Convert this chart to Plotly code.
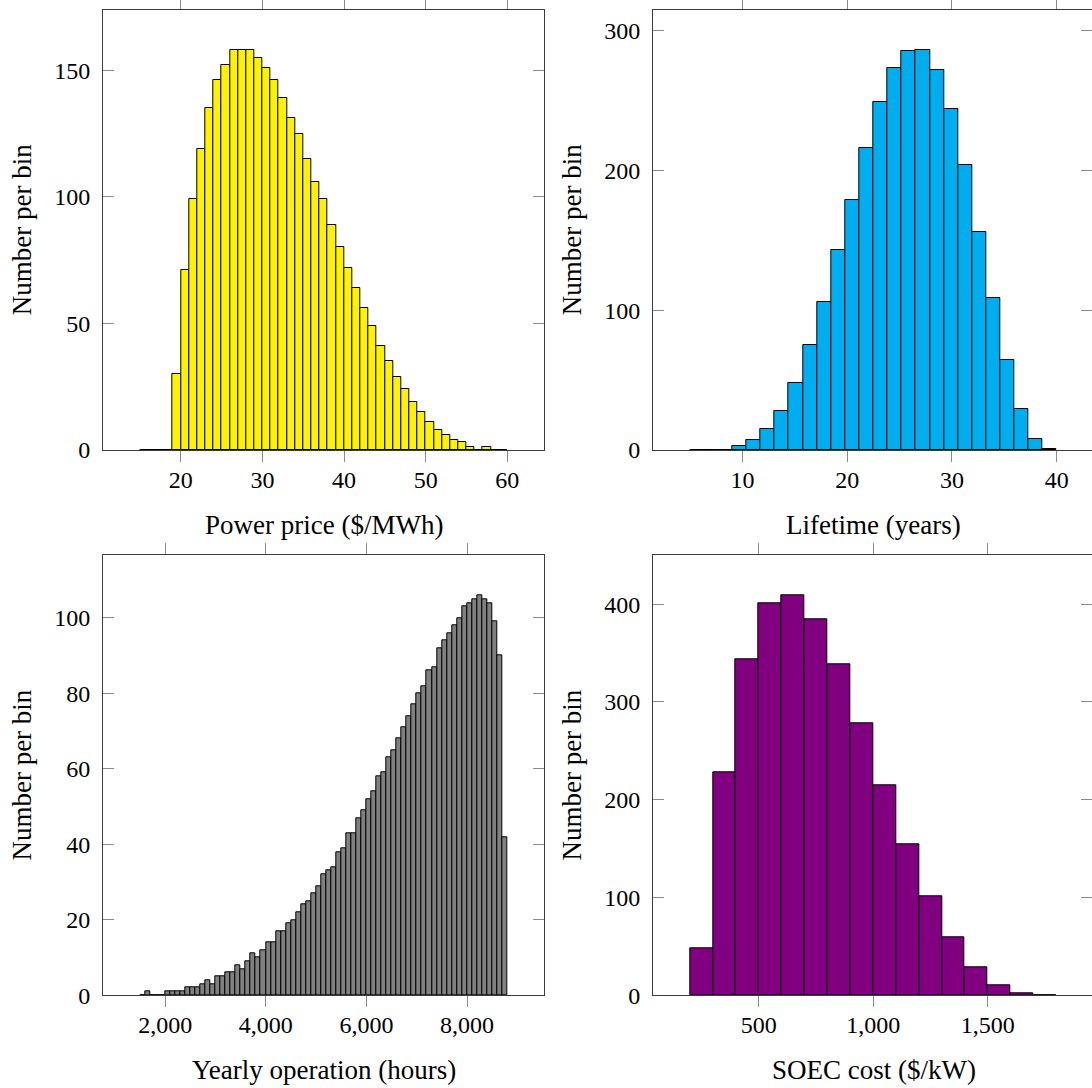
import numpy as np
import plotly.graph_objects as go

# ---------------- data ----------------
# Power price ($/MWh): 1-$ bins from 15 to 60
price_edges = np.arange(15, 61, 1)
price_counts = [0, 0, 0, 0, 30, 71, 99, 119, 135, 146, 152, 158, 158, 158, 155, 151,
                146, 139, 131, 125, 115, 106, 99, 89, 80, 72, 64, 56, 49, 41, 35, 29,
                24, 19, 15, 11, 8, 6, 4, 3, 1, 0, 1, 0, 0]

# Lifetime (years): 26 equal bins from 5 to 40
life_edges = np.linspace(5, 40, 27)
life_counts = [0, 0, 0, 3, 7, 15, 28, 48, 75, 106, 143, 179, 216, 249, 273, 285,
               286, 272, 244, 204, 156, 109, 64, 29, 8, 1]

# Yearly operation (hours): 100-h bins from 1500 to 8800
hours_edges = np.arange(1500, 8801, 100)
hours_counts = [0, 1, 0, 0, 0, 1, 1, 1, 1, 2, 2, 2, 3, 4, 3, 5, 5, 6, 6, 8, 7, 9, 11,
                10, 12, 14, 14, 17, 17, 19, 20, 22, 24, 25, 27, 29, 32, 33, 34, 38,
                39, 43, 43, 47, 49, 52, 54, 58, 59, 63, 65, 68, 71, 74, 77, 80, 82,
                86, 87, 92, 94, 96, 98, 100, 103, 104, 105, 106, 105, 104, 99, 90, 42]

# SOEC cost ($/kW): 100-$ bins from 200 to 1800
soec_edges = np.arange(200, 1801, 100)
soec_counts = [48, 228, 344, 401, 409, 384, 338, 278, 215, 154, 101, 59, 29, 10, 2, 0]

# ---------------- layout ----------------
W, H = 1092, 1088
FONT = "Liberation Serif"

panels = [
    dict(edges=price_edges, counts=price_counts, color="#FFF200",
         xlabel="Power price ($/MWh)", xr=[10.5, 64.5], yr=[0, 173.8],
         xd=10, yd=50, box=(103.3, 544.0, 10.0, 450.0), fmt=""),
    dict(edges=life_edges, counts=life_counts, color="#00AEEF",
         xlabel="Lifetime (years)", xr=[1.5, 43.36], yr=[0, 314.6],
         xd=10, yd=100, box=(653.3, 1092.0, 10.0, 450.0), fmt=""),
    dict(edges=hours_edges, counts=hours_counts, color="#808080",
         xlabel="Yearly operation (hours)", xr=[770, 9530], yr=[0, 116.6],
         xd=2000, yd=20, box=(103.3, 544.0, 555.3, 995.3), fmt=",d"),
    dict(edges=soec_edges, counts=soec_counts, color="#800080",
         xlabel="SOEC cost ($/kW)", xr=[40, 1955.7], yr=[0, 449.9],
         xd=500, yd=100, box=(653.3, 1092.0, 555.3, 995.3), fmt=",d"),
]

fig = go.Figure()
annotations = []
for i, p in enumerate(panels, start=1):
    sfx = "" if i == 1 else str(i)
    e = np.asarray(p["edges"], dtype=float)
    fig.add_trace(go.Bar(
        x=e[:-1], y=p["counts"], width=np.diff(e), offset=0,
        marker=dict(color=p["color"], line=dict(color="black", width=1)),
        xaxis="x" + sfx, yaxis="y" + sfx, showlegend=False,
    ))
    l, r, t, b = p["box"]
    common = dict(showgrid=False, zeroline=False, showline=True, linecolor="#3c3c3c",
                  linewidth=1.3, mirror="ticks", tickcolor="#8a8a8a", tickwidth=1,
                  ticklen=11, automargin=False,
                  tickfont=dict(family=FONT, size=24, color="black"))
    fig.update_layout(**{
        "xaxis" + sfx: dict(domain=[l / W, r / W], range=p["xr"], anchor="y" + sfx,
                            ticks="outside", dtick=p["xd"], tickformat=p["fmt"],
                            ticklabelstandoff=-3, **common),
        "yaxis" + sfx: dict(domain=[(H - b) / H, (H - t) / H], range=p["yr"],
                            anchor="x" + sfx, ticks="inside", dtick=p["yd"],
                            ticklabelstandoff=7, **common),
    })
    cx = (l + r) / 2 if i in (1, 3) else (2 * l + 544.0 - 103.3) / 2
    annotations.append(dict(text=p["xlabel"], x=cx / W, y=(H - (b + 75)) / H,
                            xref="paper", yref="paper", showarrow=False,
                            xanchor="center", yanchor="middle",
                            font=dict(family=FONT, size=27, color="black")))
    annotations.append(dict(text="Number per bin", x=(l - 81) / W,
                            y=(H - (t + b) / 2) / H, xref="paper", yref="paper",
                            showarrow=False, textangle=-90, xanchor="center",
                            yanchor="middle",
                            font=dict(family=FONT, size=27, color="black")))

fig.update_layout(width=W, height=H, margin=dict(l=0, r=0, t=0, b=0, pad=0),
                  paper_bgcolor="white", plot_bgcolor="white",
                  bargap=0, annotations=annotations)

fig.write_html("out.html", config={"displayModeBar": False},
               post_script="document.body.style.margin='0';"
                           "document.body.style.overflow='hidden';")
